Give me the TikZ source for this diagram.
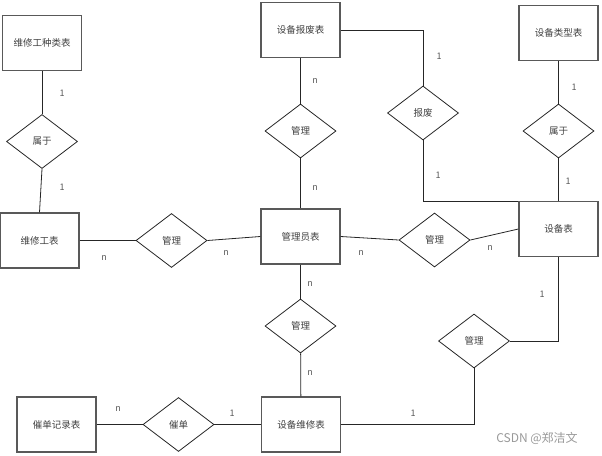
\documentclass[tikz,border=0pt]{standalone}
\usepackage{fontspec}
\setmainfont{Noto Sans CJK SC}
\usetikzlibrary{shapes.geometric}
\begin{document}
\begin{tikzpicture}[
		x=1pt, y=-1pt,
		font=\fontsize{9.5}{11}\selectfont,
		entity/.style={draw=black!65, line width=1.2pt, text=black!75, minimum width=79pt, minimum height=55pt, inner sep=0pt},
		rel/.style={diamond, draw=black!85, line width=0.8pt, text=black!75, minimum width=71pt, minimum height=54pt, inner sep=0pt},
		lab/.style={text=black!65, inner sep=0pt, font=\fontsize{9}{11}\selectfont},
		link/.style={draw=black!85, line width=0.8pt}
	]
	\useasboundingbox (0,0) rectangle (602,455);
	\node[entity] (wxzl) at (42,43) {维修工种类表};
	\node[entity] (sbf) at (300.5,30) {设备报废表};
	\node[entity] (sblx) at (558.5,33) {设备类型表};
	\node[entity] (wxg) at (39.5,240.5) {维修工表};
	\node[entity] (gly) at (300.5,236.5) {管理员表};
	\node[entity] (sb) at (558.5,229) {设备表};
	\node[entity] (cdjl) at (56.5,424.5) {催单记录表};
	\node[entity] (sbwx) at (301,424.5) {设备维修表};
	\node[rel] (sy1) at (42,141.5) {属于};
	\node[rel] (gl1) at (300.5,131) {管理};
	\node[rel] (bf) at (423,113) {报废};
	\node[rel] (sy2) at (558.5,131) {属于};
	\node[rel] (gl2) at (171.5,240.5) {管理};
	\node[rel] (gl3) at (434.5,240) {管理};
	\node[rel] (gl4) at (300.5,326) {管理};
	\node[rel] (gl5) at (474,341) {管理};
	\node[rel] (cd) at (178.5,424.5) {催单};
	\draw[link] (wxzl) -- (sy1);
	\draw[link] (sy1.south) -- (wxg.north);
	\draw[link] (wxg) -- (gl2);
	\draw[link] (gl2.east) -- (gly.west);
	\draw[link] (sbf) -- (gl1);
	\draw[link] (gl1) -- (gly);
	\draw[link] (sbf.east) -| (bf.north);
	\draw[link] (bf.south) |- (sb.north west);
	\draw[link] (sblx) -- (sy2);
	\draw[link] (sy2) -- (sb);
	\draw[link] (gly.east) -- (gl3.west);
	\draw[link] (gl3.east) -- (sb.west);
	\draw[link] (gly) -- (gl4);
	\draw[link] (gl4) -- (sbwx);
	\draw[link] (sb.south) |- (gl5.east);
	\draw[link] (gl5.south) |- (sbwx.east);
	\draw[link] (cdjl) -- (cd);
	\draw[link] (cd) -- (sbwx);
	\node[lab] (l1) at (62,93) {1};
	\node[lab] (l2) at (62,187) {1};
	\node[lab] (l3) at (104,258) {n};
	\node[lab] (l4) at (226,253) {n};
	\node[lab] (l5) at (315,81) {n};
	\node[lab] (l6) at (315,188) {n};
	\node[lab] (l7) at (439,56) {1};
	\node[lab] (l8) at (438,175) {1};
	\node[lab] (l9) at (574,87) {1};
	\node[lab] (l10) at (568,181) {1};
	\node[lab] (l11) at (361,253) {n};
	\node[lab] (l12) at (490,248) {n};
	\node[lab] (l13) at (310,284) {n};
	\node[lab] (l14) at (310,373) {n};
	\node[lab] (l15) at (542,294) {1};
	\node[lab] (l16) at (413,413) {1};
	\node[lab] (l17) at (118,409) {n};
	\node[lab] (l18) at (232,413) {1};
	\node[text=black!40, font=\fontsize{12}{14}\selectfont] (wm) at (537,438) {CSDN @郑洁文};
\end{tikzpicture}
\end{document}
